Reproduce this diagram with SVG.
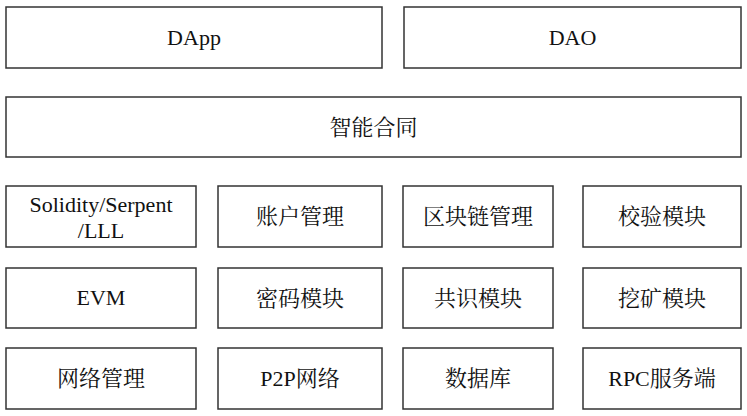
<svg xmlns="http://www.w3.org/2000/svg" width="747" height="416" viewBox="0 0 747 416">
<style>
rect{fill:#fff;stroke:#333;stroke-width:1.5}
text{font-family:"Liberation Serif","Noto Serif CJK SC","Noto Sans CJK SC",serif;font-size:22px;fill:#111;text-anchor:middle}
</style>
<rect x="0" y="0" width="747" height="416" style="stroke:none"/>
<g id="dapp"><rect x="6" y="7" width="376" height="61"/><text x="194" y="45">DApp</text></g>
<g id="dao"><rect x="404" y="7" width="337" height="61"/><text x="572.5" y="45">DAO</text></g>
<g id="smart-contract"><rect x="6" y="97" width="735" height="60"/><text x="373.5" y="135">智能合同</text></g>
<g id="solidity"><rect x="6" y="186" width="190" height="61"/><text x="101" y="212">Solidity/Serpent</text><text x="101" y="238">/LLL</text></g>
<g id="account"><rect x="218" y="186" width="164" height="61"/><text x="300" y="224">账户管理</text></g>
<g id="chain"><rect x="403" y="186" width="150" height="61"/><text x="478" y="224">区块链管理</text></g>
<g id="verify"><rect x="583" y="186" width="158" height="61"/><text x="662" y="224">校验模块</text></g>
<g id="evm"><rect x="6" y="268" width="190" height="60"/><text x="101" y="305">EVM</text></g>
<g id="crypto"><rect x="218" y="268" width="164" height="60"/><text x="300" y="306">密码模块</text></g>
<g id="consensus"><rect x="403" y="268" width="150" height="60"/><text x="478" y="306">共识模块</text></g>
<g id="mining"><rect x="583" y="268" width="158" height="60"/><text x="662" y="306">挖矿模块</text></g>
<g id="network"><rect x="6" y="348" width="190" height="61"/><text x="101" y="386">网络管理</text></g>
<g id="p2p"><rect x="218" y="348" width="164" height="61"/><text x="300" y="386">P2P网络</text></g>
<g id="db"><rect x="403" y="348" width="150" height="61"/><text x="478" y="386">数据库</text></g>
<g id="rpc"><rect x="583" y="348" width="158" height="61"/><text x="662" y="386">RPC服务端</text></g>
<g id="connectors"></g>
</svg>
